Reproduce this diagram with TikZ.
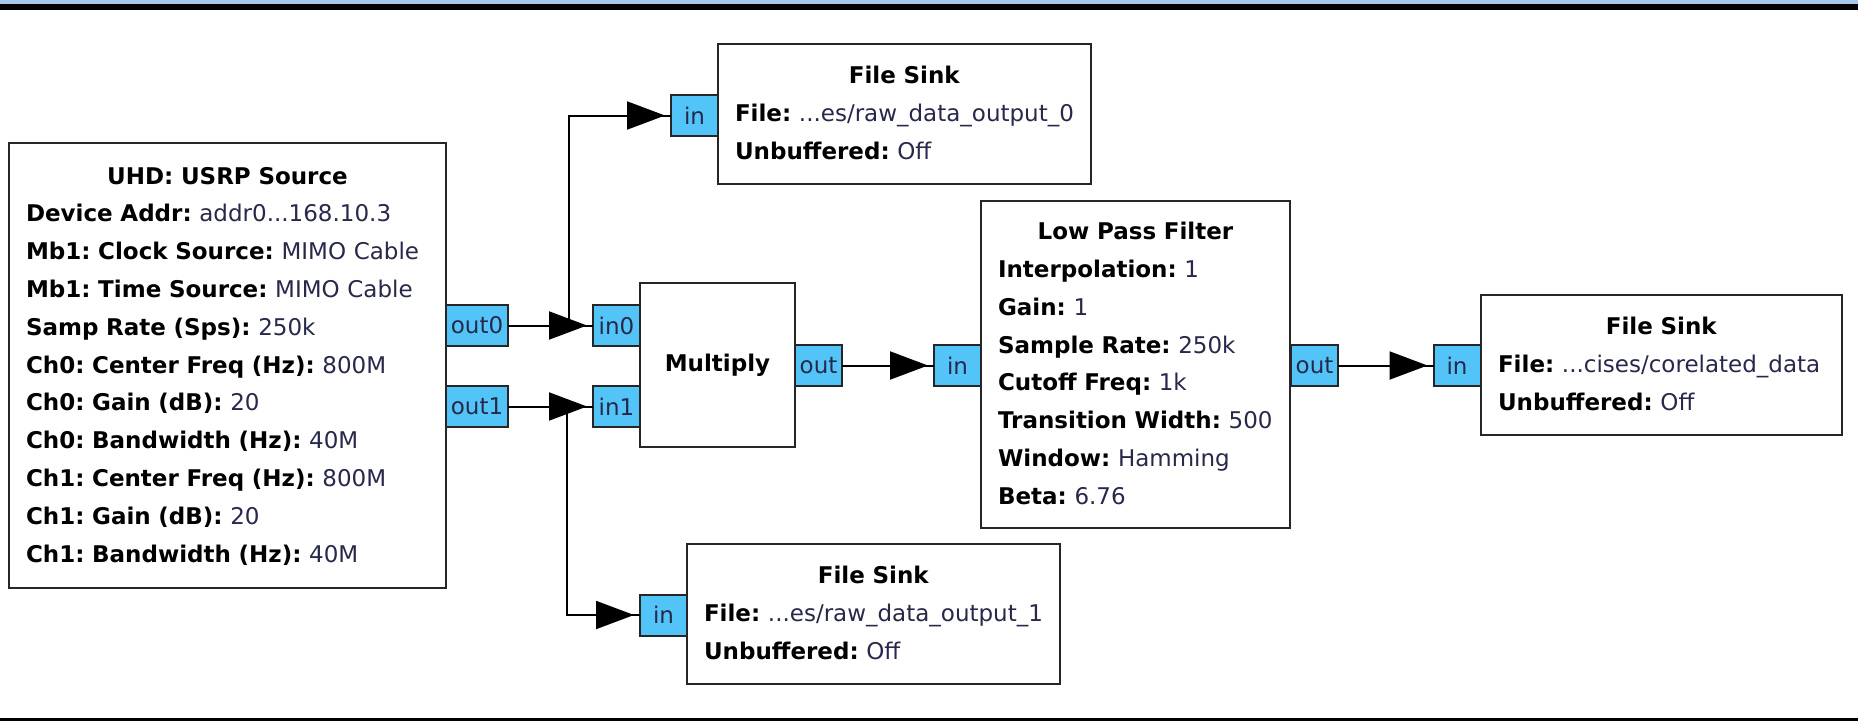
\documentclass[tikz,border=0pt]{standalone}
\usepackage{fontspec}
\setmainfont{DejaVu Sans}
\usetikzlibrary{arrows.meta,decorations.markings}

\definecolor{portblue}{RGB}{82,196,247}
\definecolor{valtext}{RGB}{40,40,75}
\definecolor{barblue}{RGB}{168,200,235}

\setlength{\parindent}{0pt}
\frenchspacing
\newcommand{\blocktitle}[1]{{\centering\strut\textbf{#1}\par}}
\newcommand{\prm}[2]{\mbox{\strut\textbf{#1:} \textcolor{valtext}{#2}}\par}

\begin{document}
\begin{tikzpicture}[x=1pt, y=-1pt,
    block/.style={draw=black!85, line width=2pt, fill=white, anchor=north west,
        inner xsep=17pt, inner ysep=0pt, outer sep=0pt,
        font=\fontsize{23}{37.8}\selectfont},
    port/.style={draw=black!85, line width=2pt, fill=portblue, text=valtext,
        minimum width=47pt, minimum height=41pt, inner xsep=5pt, inner ysep=0pt,
        outer sep=0pt, font=\fontsize{23}{28}\selectfont},
    wire/.style={line width=2pt, postaction={decorate},
        decoration={markings, mark=at position -6pt with {\arrow{Triangle[length=38pt,width=28pt]}}}}]
    \useasboundingbox (0,0) rectangle (1858,721);
    % window edges
    \fill[barblue] (0,0) rectangle (1858,4);
    \fill[black] (0,4) rectangle (1858,10);
    \fill[black] (0,718) rectangle (1858,721);

    % blocks
    \node[block, text width=403pt, minimum height=445pt] (usrp) at (9,143) {%
        \blocktitle{UHD: USRP Source}
        \prm{Device Addr}{addr0...168.10.3}
        \prm{Mb1: Clock Source}{MIMO Cable}
        \prm{Mb1: Time Source}{MIMO Cable}
        \prm{Samp Rate (Sps)}{250k}
        \prm{Ch0: Center Freq (Hz)}{800M}
        \prm{Ch0: Gain (dB)}{20}
        \prm{Ch0: Bandwidth (Hz)}{40M}
        \prm{Ch1: Center Freq (Hz)}{800M}
        \prm{Ch1: Gain (dB)}{20}
        \prm{Ch1: Bandwidth (Hz)}{40M}};
    \node[block, minimum width=155pt, minimum height=164pt] (mult) at (640,283) {\textbf{Multiply}};
    \node[block, text width=275pt, minimum height=327pt] (lpf) at (981,201) {%
        \blocktitle{Low Pass Filter}
        \prm{Interpolation}{1}
        \prm{Gain}{1}
        \prm{Sample Rate}{250k}
        \prm{Cutoff Freq}{1k}
        \prm{Transition Width}{500}
        \prm{Window}{Hamming}
        \prm{Beta}{6.76}};
    \node[block, text width=339pt, minimum height=140pt] (sink0) at (718,44) {%
        \blocktitle{File Sink}
        \prm{File}{...es/raw\_data\_output\_0}
        \prm{Unbuffered}{Off}};
    \node[block, text width=339pt, minimum height=140pt] (sink1) at (687,544) {%
        \blocktitle{File Sink}
        \prm{File}{...es/raw\_data\_output\_1}
        \prm{Unbuffered}{Off}};
    \node[block, text width=327pt, minimum height=140pt] (sink2) at (1481,295) {%
        \blocktitle{File Sink}
        \prm{File}{...cises/corelated\_data}
        \prm{Unbuffered}{Off}};

    % ports
    \node[port] (usrp-out0) at (477,325.5) {out0};
    \node[port] (usrp-out1) at (477,406.5) {out1};
    \node[port] (mult-in0) at (616.5,325.5) {in0};
    \node[port] (mult-in1) at (616.5,406.5) {in1};
    \node[port] (mult-out) at (818.5,365.5) {out};
    \node[port] (lpf-in) at (957.5,365.5) {in};
    \node[port] (lpf-out) at (1314.5,365.5) {out};
    \node[port] (sink0-in) at (694.5,115.5) {in};
    \node[port] (sink1-in) at (663.5,615) {in};
    \node[port] (sink2-in) at (1457,365.5) {in};

    % connections
    \coordinate (tap0) at (569,325.5);
    \coordinate (tap1) at (567,406.5);
    \draw[wire] (usrp-out0) -- (mult-in0);
    \draw[wire] (usrp-out1) -- (mult-in1);
    \draw[wire] (usrp-out0.east) -- (tap0) |- (sink0-in.west);
    \draw[wire] (usrp-out1.east) -- (tap1) |- (sink1-in.west);
    \draw[wire] (mult-out) -- (lpf-in);
    \draw[wire] (lpf-out) -- (sink2-in);
\end{tikzpicture}
\end{document}
